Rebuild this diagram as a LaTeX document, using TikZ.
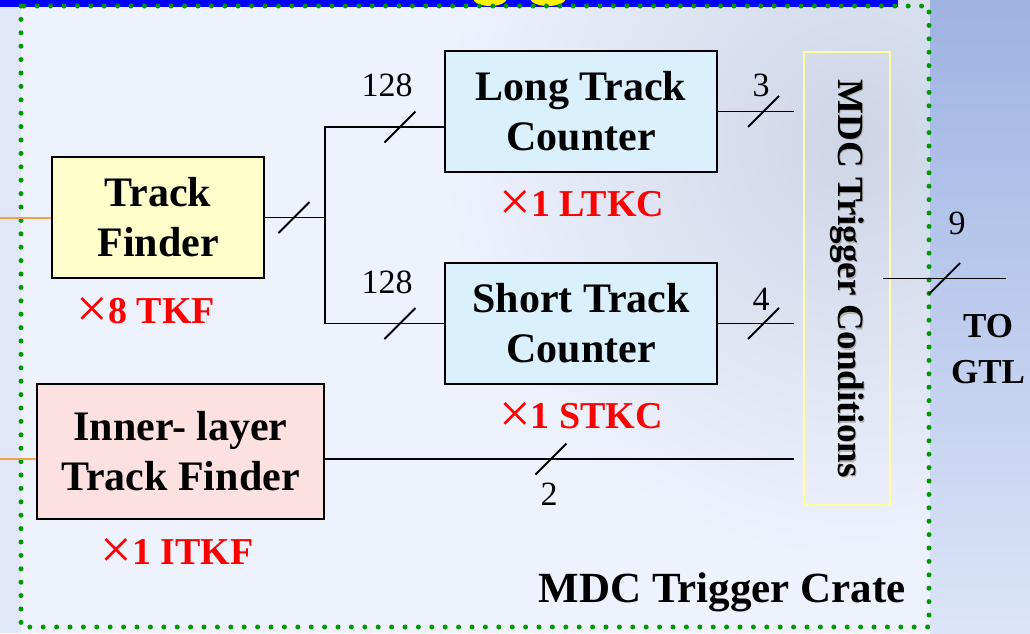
\documentclass[tikz,border=0pt]{standalone}
\usepackage{fontspec}
\setmainfont{Liberation Serif}
\definecolor{bgc}{HTML}{EEF2FD}
\definecolor{leftc}{HTML}{DFE7F8}
\definecolor{glowc}{HTML}{CDD5E6}
\definecolor{rtop}{HTML}{9EB3E3}
\definecolor{rmid}{HTML}{B4C2E0}
\definecolor{rbot}{HTML}{DCE5F8}
\definecolor{barc}{HTML}{0000FF}
\definecolor{crategreen}{HTML}{009A00}
\definecolor{tfcol}{HTML}{FFFFCC}
\definecolor{ctrcol}{HTML}{DAF0FC}
\definecolor{itfcol}{HTML}{FDE0E0}
\definecolor{mdcedge}{HTML}{FFFF9E}
\definecolor{feedc}{HTML}{F4A048}
\definecolor{labred}{HTML}{FF0000}
\newcommand{\bigx}{{\mdseries\fontsize{56}{56}\selectfont\raisebox{-3.5pt}{×}}}
\begin{document}
\begin{tikzpicture}[x=1pt,y=-1pt,
  box/.style={draw=black, line width=1.8pt, align=center, inner sep=0pt,
    font=\bfseries\fontsize{42}{50}\selectfont},
  wire/.style={draw=black, line width=1.8pt},
  slash/.style={draw=black, line width=1.8pt},
  feed/.style={draw=feedc, line width=2pt},
  count/.style={text=labred, font=\bfseries\fontsize{38}{40}\selectfont, inner sep=0pt},
  width/.style={inner sep=0pt, font=\fontsize{34}{36}\selectfont},
  crate/.style={draw=crategreen, line width=5pt, line cap=round, dash pattern=on 0pt off 13.4pt}
]
\useasboundingbox (0,0) rectangle (1030,633);
\clip (0,0) rectangle (1030,633);
% background
\fill[bgc] (0,0) rectangle (1030,633);
\fill[leftc] (0,0) rectangle (21,633);
\shade[inner color=glowc, outer color=bgc] (860,140) circle (420);
\shade[top color=rtop, middle color=rmid, bottom color=rbot] (930,0) rectangle (1030,633);
\fill[barc] (0,0) rectangle (898,7);
\fill[yellow] (490,-2) ellipse [x radius=17, y radius=8];
\fill[yellow] (548,-2) ellipse [x radius=18, y radius=8];
\draw[crate] (21,6) rectangle (929,627);

% boxes
\node[box, fill=tfcol, minimum width=212, minimum height=121] (TF) at (158,217.5) {Track\\Finder};
\node[box, fill=ctrcol, minimum width=272, minimum height=121] (LTC) at (581,111.5) {Long Track\\Counter};
\node[box, fill=ctrcol, minimum width=272, minimum height=121] (STC) at (581,323.5) {Short Track\\Counter};
\node[box, fill=itfcol, minimum width=287, minimum height=135] (ITF) at (180.5,451.5) {Inner- layer\\Track Finder};
\node[draw=mdcedge, line width=2pt, minimum width=86, minimum height=453, inner sep=0pt] (MDC) at (847,278.5) {};
\node[rotate=-90, text=black!30, font=\bfseries\fontsize{37}{40}\selectfont, inner sep=0pt] (MDCsh) at (848.5,280) {MDC Trigger Conditions};
\node[rotate=-90, font=\bfseries\fontsize{37}{40}\selectfont, inner sep=0pt] (MDCt) at (847,278.5) {MDC Trigger Conditions};

% coordinates
\coordinate (j) at (325,217.5);
\coordinate (b1) at (400,127);
\coordinate (b2) at (400,323.5);
\coordinate (s0) at (294,217.5);
\coordinate (o1) at (794,111.5);
\coordinate (o2) at (794,323.5);
\coordinate (o3) at (794,459);
\coordinate (s1) at (763.5,111.5);
\coordinate (s2) at (763.5,323.5);
\coordinate (s3) at (551,459);
\coordinate (m1) at (883,278.5);
\coordinate (m2) at (1006,278.5);
\coordinate (s4) at (944.5,278.5);
\coordinate (l1) at (0,217.5);
\coordinate (l2) at (0,459);

% connectors
\draw[feed] (l1) -- (TF.west);
\draw[feed] (l2) -- (ITF.west |- l2);
\draw[wire] (TF.east) -- (j);
\draw[wire] (LTC.west |- b1) -| (j) |- (STC.west);
\draw[wire] (LTC.east) -- (o1);
\draw[wire] (STC.east) -- (o2);
\draw[wire] (ITF.east |- o3) -- (o3);
\draw[wire] (m1) -- (m2);

% bus width slashes
\foreach \c in {s0,b1,b2,s1,s2,s3,s4}
  \draw[slash] (\c) ++(-15.5,15.5) -- ++(31,-31);

% width labels
\node[width] (w1) at (387,85) {128};
\node[width] (w2) at (387,282) {128};
\node[width] (w3) at (761,85) {3};
\node[width] (w4) at (761,299) {4};
\node[width] (w5) at (549,494) {2};
\node[width] (w6) at (957,223) {9};

% count labels
\node[count] (c1) at (146,312) {\bigx8 TKF};
\node[count] (c2) at (582,205) {\bigx1 LTKC};
\node[count] (c3) at (581,417) {\bigx1 STKC};
\node[count] (c4) at (177,553) {\bigx1 ITKF};

% other texts
\node[align=center, inner sep=0pt, font=\bfseries\fontsize{35}{46}\selectfont] (gtl) at (988,349) {TO\\GTL};
\node[anchor=base east, inner sep=0pt, font=\bfseries\fontsize{43}{46}\selectfont] (crt) at (906,602) {MDC Trigger Crate};
\end{tikzpicture}
\end{document}
